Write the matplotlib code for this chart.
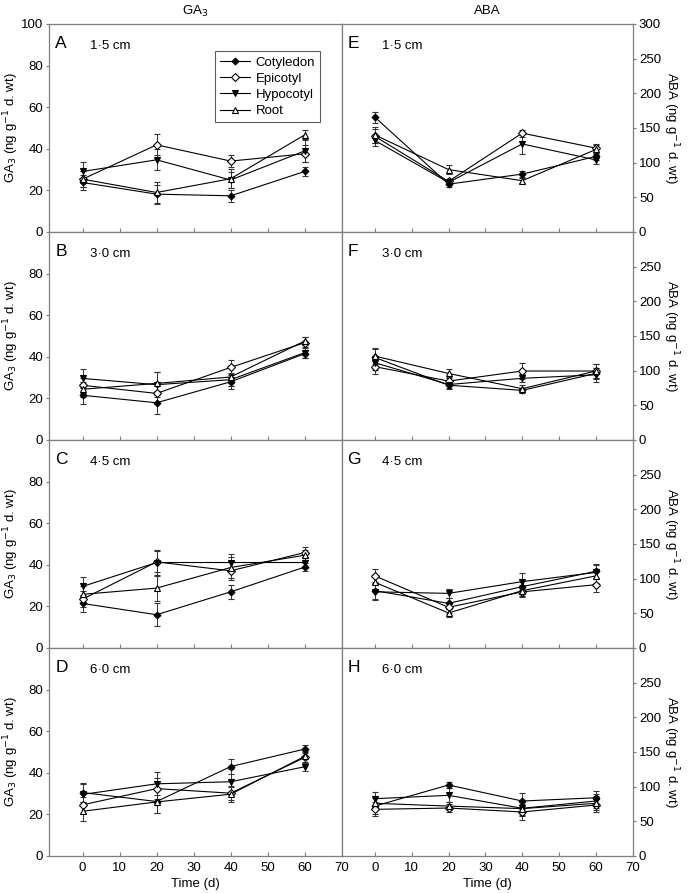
import matplotlib
matplotlib.use("Agg")
import matplotlib.pyplot as plt
from matplotlib.lines import Line2D
import numpy as np

plt.rcParams['font.family'] = ['Liberation Sans', 'DejaVu Sans']

days = [0, 20, 40, 60]
organs = ["Cotyledon", "Epicotyl", "Hypocotyl", "Root"]
sizes = ["1·5 cm", "3·0 cm", "4·5 cm", "6·0 cm"]
ga_letters = ["A", "B", "C", "D"]
aba_letters = ["E", "F", "G", "H"]

# GA3 (ng g-1 d. wt) : [cotyledon, epicotyl, hypocotyl, root]
ga_15 = [[23.8, 18.2, 17.4, 29.1], [25.4, 41.9, 34.1, 37.6], [29.1, 34.7, 25.0, 39.0], [25.4, 19.0, 25.6, 46.7]]
ga_15_err = [[3.5, 4.5, 3.0, 2.0], [4.0, 5.0, 3.0, 4.0], [4.5, 5.0, 4.0, 5.5], [4.0, 5.0, 4.5, 2.5]]
ga_30 = [[21.5, 17.9, 28.0, 41.5], [26.3, 22.4, 34.9, 46.8], [29.6, 26.6, 29.0, 42.0], [24.4, 27.2, 30.3, 47.6]]
ga_30_err = [[4.0, 5.5, 3.5, 2.0], [3.5, 4.5, 3.5, 2.5], [4.5, 6.0, 3.0, 2.5], [3.5, 5.5, 4.5, 2.0]]
ga_45 = [[21.4, 16.0, 27.0, 38.9], [23.5, 41.4, 37.1, 45.9], [29.6, 41.1, 41.1, 41.1], [25.8, 28.8, 38.7, 44.6]]
ga_45_err = [[4.0, 5.5, 3.5, 2.0], [4.0, 5.0, 4.5, 2.5], [4.5, 6.0, 4.0, 2.5], [4.0, 6.0, 5.0, 2.5]]
ga_60 = [[30.5, 26.2, 43.0, 51.4], [24.6, 32.4, 30.2, 47.4], [29.6, 34.7, 35.7, 42.9], [21.5, 26.0, 29.7, 47.9]]
ga_60_err = [[4.5, 5.5, 3.5, 2.0], [4.0, 5.0, 3.5, 2.5], [5.0, 5.5, 6.0, 2.0], [4.5, 5.5, 3.5, 2.5]]

# ABA (ng g-1 d. wt)
aba_15 = [[165.6, 69.0, 83.5, 109.0], [138.0, 73.0, 142.6, 121.0], [132.0, 71.5, 127.0, 104.0], [140.0, 90.0, 74.0, 119.0]]
aba_15_err = [[8.0, 4.0, 4.0, 5.0], [10.0, 4.0, 5.0, 6.0], [8.0, 4.0, 14.0, 6.0], [12.0, 6.0, 4.0, 6.0]]
aba_30 = [[119.0, 79.0, 71.6, 96.0], [105.8, 85.0, 99.5, 99.5], [111.5, 80.0, 89.0, 94.0], [121.0, 96.0, 74.0, 99.5]]
aba_30_err = [[12.0, 6.0, 4.0, 8.0], [10.0, 6.0, 12.0, 10.0], [10.0, 5.0, 6.0, 10.0], [12.0, 6.0, 5.0, 10.0]]
aba_45 = [[82.7, 64.4, 88.5, 110.6], [104.0, 58.7, 81.0, 91.3], [81.0, 78.8, 95.7, 109.0], [94.7, 50.5, 82.7, 104.0]]
aba_45_err = [[12.0, 8.0, 10.0, 10.0], [10.0, 8.0, 8.0, 10.0], [12.0, 6.0, 12.0, 10.0], [10.0, 6.0, 8.0, 10.0]]
aba_60 = [[72.0, 102.4, 79.3, 84.0], [67.3, 69.2, 63.5, 73.5], [82.7, 87.5, 68.8, 79.3], [76.0, 72.0, 68.3, 76.0]]
aba_60_err = [[12.0, 5.0, 12.0, 10.0], [10.0, 6.0, 12.0, 10.0], [10.0, 10.0, 10.0, 10.0], [10.0, 6.0, 10.0, 10.0]]

ga_data = [(ga_15, ga_15_err), (ga_30, ga_30_err), (ga_45, ga_45_err), (ga_60, ga_60_err)]
aba_data = [(aba_15, aba_15_err), (aba_30, aba_30_err), (aba_45, aba_45_err), (aba_60, aba_60_err)]

styles = {
    "Cotyledon": dict(marker="D", mfc="black", mec="black", ms=3.5),
    "Epicotyl": dict(marker="D", mfc="white", mec="black", ms=4.5),
    "Hypocotyl": dict(marker="v", mfc="black", mec="black", ms=4.5),
    "Root": dict(marker="^", mfc="white", mec="black", ms=5),
}

W, H = 690, 893
fig = plt.figure(figsize=(W / 100, H / 100), dpi=100)

x_left, x_mid, x_right = 49.3, 341.7, 632.7
y_top, y_bot = 24.0, 856.0
ph = (y_bot - y_top) / 4
spine_col = "#7f7f7f"
fs = 9.5

def fx(px):
    return px / W

def fy(py):
    return 1 - py / H

for col in range(2):
    for row in range(4):
        x0 = x_left if col == 0 else x_mid
        x1 = x_mid if col == 0 else x_right
        top = y_top + row * ph
        ax = fig.add_axes([fx(x0), fy(top + ph), fx(x1 - x0), ph / H])
        vals, errs = (ga_data if col == 0 else aba_data)[row]
        for i, org in enumerate(organs):
            st = styles[org]
            ax.errorbar(days, vals[i], yerr=errs[i], color="black", lw=0.8,
                        marker=st["marker"], mfc=st["mfc"], mec=st["mec"], ms=st["ms"],
                        mew=0.8, ecolor="#333333", elinewidth=0.7, capsize=2.5,
                        capthick=0.7, zorder=3)
        ax.set_xlim(-9, 70)
        ax.set_xticks(range(0, 71, 10))
        ax.tick_params(axis="x", direction="in", length=3, color=spine_col, labelsize=fs,
                       labelbottom=(row == 3), pad=4)
        for s in ax.spines.values():
            s.set_color(spine_col)
            s.set_linewidth(0.9)
        if col == 0:
            ax.set_ylim(0, 100)
            yt = [0, 20, 40, 60, 80, 100] if row == 0 else [0, 20, 40, 60, 80]
            ax.set_yticks(yt)
            ax.tick_params(axis="y", direction="out", length=2.5, color=spine_col, labelsize=fs, pad=2)
            ax.set_ylabel("GA$_3$ (ng g$^{-1}$ d. wt)", fontsize=fs)
            ax.yaxis.set_label_coords(-0.098, 0.5)
            letter = ga_letters[row]
        else:
            ax.set_ylim(0, 300)
            yt = list(range(0, 301, 50)) if row == 0 else list(range(0, 251, 50))
            ax.set_yticks(yt)
            ax.yaxis.tick_right()
            ax.yaxis.set_label_position("right")
            ax.tick_params(axis="y", direction="out", length=2.5, color=spine_col, labelsize=fs, pad=2)
            ax.set_ylabel("ABA (ng g$^{-1}$ d. wt)", fontsize=fs, rotation=-90, labelpad=14)
            letter = aba_letters[row]
        ax.text(0.02, 0.94, letter, transform=ax.transAxes, fontsize=12.5, va="top", ha="left")
        ax.text(0.14, 0.925, sizes[row], transform=ax.transAxes, fontsize=fs, va="top", ha="left")
        if row == 3:
            ax.set_xlabel("Time (d)", fontsize=fs, labelpad=3)
        if col == 0 and row == 0:
            handles = [Line2D([], [], color="black", lw=0.8, marker=styles[o]["marker"],
                              mfc=styles[o]["mfc"], mec=styles[o]["mec"], ms=styles[o]["ms"],
                              mew=0.8) for o in organs]
            leg = ax.legend(handles, organs, loc="upper left", bbox_to_anchor=(0.565, 0.87),
                            fontsize=fs, frameon=True, fancybox=False, handlelength=2.3,
                            handletextpad=0.4, borderpad=0.4, labelspacing=0.3, borderaxespad=0)
            leg.get_frame().set_edgecolor("#333333")
            leg.get_frame().set_linewidth(0.8)

fig.text(fx((x_left + x_mid) / 2), fy(11), "GA$_3$", ha="center", va="center", fontsize=fs)
fig.text(fx((x_mid + x_right) / 2), fy(11), "ABA", ha="center", va="center", fontsize=fs)

fig.savefig("out.png", dpi=100)
